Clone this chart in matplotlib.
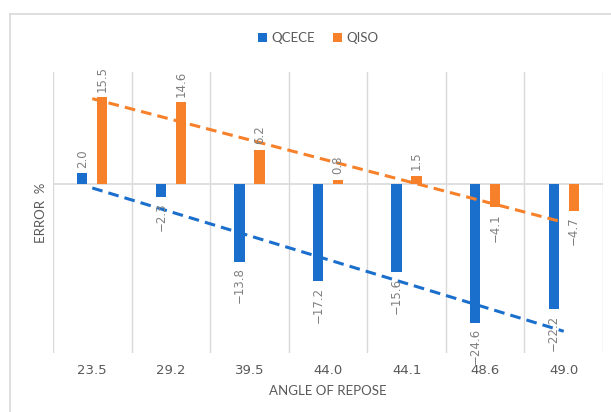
import numpy as np
import matplotlib
matplotlib.use("Agg")
import matplotlib.pyplot as plt
from matplotlib.lines import Line2D

# data
angles = ["23.5", "29.2", "39.5", "44.0", "44.1", "48.6", "49.0"]
qcece = [2.0, -2.3, -13.8, -17.2, -15.6, -24.6, -22.2]
qiso = [15.5, 14.6, 6.2, 0.8, 1.5, -4.1, -4.7]

blue = "#1B6FCC"
orange = "#F7812A"
grid_c = "#d9d9d9"
text_c = "#595959"

fig = plt.figure(figsize=(6.11, 4.12), dpi=100)
# light chart border (only top/left visible in the crop)
bx0, by0 = 10 / 611, 1 - 14 / 412
fig.add_artist(Line2D([bx0, 1.02], [by0, by0], transform=fig.transFigure, color=grid_c, lw=1.2))
fig.add_artist(Line2D([bx0, bx0], [-0.02, by0], transform=fig.transFigure, color=grid_c, lw=1.2))

ax = fig.add_axes([53 / 611, 1 - 353 / 412, 550 / 611, 281 / 412])
x = np.arange(len(angles))
w = 0.13
off = 0.127
ax.bar(x - off, qcece, width=w, color=blue, label="QCECE", zorder=3)
ax.bar(x + off, qiso, width=w, color=orange, label="QISO", zorder=3)

# linear trend lines
for vals, col in [(qiso, orange), (qcece, blue)]:
    k, b = np.polyfit(x, vals, 1)
    ax.plot([x[0], x[-1]], [k * x[0] + b, k * x[-1] + b], ls=(0, (3.5, 2)),
            color=col, lw=2.2, zorder=4)

# value labels
for vals, dx in [(qcece, -off), (qiso, off)]:
    for xi, v in zip(x, vals):
        if v >= 0:
            ax.annotate(f"{v:.1f}", (xi + dx, v), xytext=(0, 4), textcoords="offset points",
                        rotation=90, ha="center", va="bottom", fontsize=8.5, color="#808080",
                        zorder=5)
        else:
            ax.annotate(f"\u2212{abs(v):.1f}", (xi + dx, v), xytext=(0, -4),
                        textcoords="offset points", rotation=90, ha="center", va="top",
                        fontsize=8.5, color="#808080", zorder=5)

ax.set_xlim(-0.5, len(angles) - 0.5)
ax.set_ylim(-30, 20)
for gx in np.arange(-0.5, len(angles), 1.0):
    ax.axvline(gx, color=grid_c, lw=1, zorder=1)
ax.axhline(0, color=grid_c, lw=1.2, zorder=2)
for s in ax.spines.values():
    s.set_visible(False)
ax.set_yticks([])
ax.set_xticks(x)
ax.set_xticklabels(angles, fontsize=9.5, color=text_c)
ax.tick_params(axis="x", length=0, pad=8)
ax.set_xlabel("ANGLE OF REPOSE", fontsize=9.5, color=text_c, family="Lato", labelpad=6)
ax.set_ylabel("ERROR  %", fontsize=9.5, color=text_c, family="Lato", labelpad=4)

fig.legend(loc="center", bbox_to_anchor=(318 / 611, 1 - 38 / 412), ncol=2, frameon=False,
           prop={"family": "Lato", "size": 9.5}, handlelength=0.7, handleheight=0.7,
           handletextpad=0.3, columnspacing=1.4, labelcolor=text_c)

fig.savefig("out.png", dpi=100)
